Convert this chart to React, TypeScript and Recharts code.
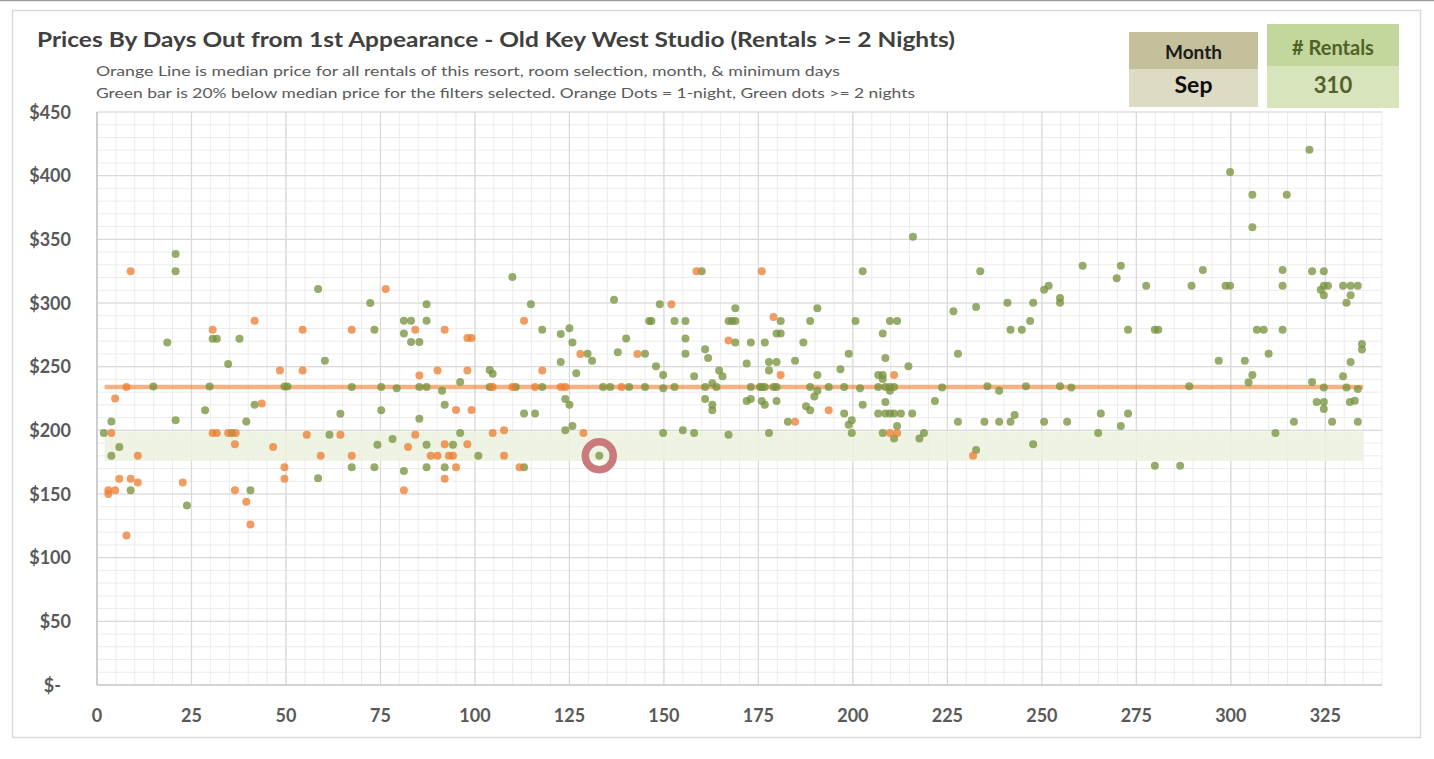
import React from 'react';
import { ScatterChart, Scatter, XAxis, YAxis, CartesianGrid, ReferenceArea } from 'recharts';

// ---------- data ----------
const xTicks = [0, 25, 50, 75, 100, 125, 150, 175, 200, 225, 250, 275, 300, 325];
const yTicks = [0, 50, 100, 150, 200, 250, 300, 350, 400, 450];
const xDomain = [0, 340];
const yDomain = [0, 450];

const medianPrice = 234;
const medianSpan = [2, 335];
const bandLow = 176;
const bandHigh = 199;
const highlightPoint = [132.9, 180];

// Orange dots = 1-night rentals [days out, price]
const oneNightPoints = [
  [3, 153], [3, 150], [3.8, 198], [4.8, 225], [4.8, 153], [5.9, 162], [7.8, 234], [7.8, 117.5],
  [8.9, 325], [8.9, 162], [10.8, 180], [10.8, 159], [22.7, 159], [30.6, 279], [30.6, 198], [31.7, 198],
  [34.7, 198], [36.5, 189], [36.5, 153], [36.7, 198], [39.5, 144], [40.6, 126], [41.7, 286], [43.6, 221],
  [46.6, 187], [48.4, 247], [49.6, 171], [49.6, 162], [54.4, 279], [54.4, 247], [55.5, 196.5], [59.2, 180],
  [64.4, 196.5], [67.4, 279], [67.4, 180], [76.4, 311], [81.2, 153], [82.3, 187], [84.2, 279], [84.2, 196.5],
  [85.3, 243], [88.3, 180], [90.1, 247], [90.1, 180], [92, 279], [92, 189], [92, 162], [93.1, 180],
  [94.2, 180], [95, 216], [95, 171], [98, 272.5], [98, 247], [98, 189], [99.1, 272.5], [99.1, 216],
  [104.7, 234], [104.7, 198], [107.7, 200], [107.7, 180], [109.9, 234], [111.8, 171], [113, 286], [115.9, 234],
  [117.8, 247], [122.7, 234], [123.9, 234], [127.9, 260], [128.7, 198], [138.8, 234], [143, 260], [152, 299],
  [158.6, 325], [167.1, 270.5], [175.9, 325], [179, 289], [180.9, 243.4], [184.7, 206.8], [193.6, 215.7],
  [209.8, 198], [210.9, 243.4], [211.7, 198], [231.8, 180],
];

// Green dots = 2+ night rentals [days out, price]
const multiNightPoints = [
  [1.8, 198], [3.8, 207], [3.8, 180], [5.9, 187], [8.9, 153], [14.9, 234.5], [18.6, 269], [20.8, 338.5],
  [20.8, 325], [20.8, 208], [23.8, 141], [28.6, 215.7], [29.8, 234.5], [30.6, 272], [31.7, 272], [34.7, 252],
  [35.7, 198], [37.7, 272], [39.5, 207], [40.6, 153], [41.7, 220], [49.6, 234.5], [50.4, 234.5],
  [58.5, 311], [58.5, 162.3], [60.3, 254.7], [61.5, 196.5], [64.4, 213], [67.4, 234], [67.4, 171], [72.3, 300],
  [73.4, 279], [73.4, 171], [74.2, 188.7], [75.2, 234], [75.2, 215.7], [78.2, 193.2], [79.3, 233], [81.2, 286],
  [81.2, 276], [81.2, 168], [83.1, 286], [83.1, 269.4], [85.3, 269.4], [85.3, 234], [85.3, 209], [87.2, 299],
  [87.2, 286], [87.2, 234], [87.2, 188.7], [87.2, 171], [91.3, 231], [92, 220], [92, 171], [94.2, 188.7],
  [96.1, 238], [96.1, 198], [100.9, 180], [103.9, 247.4], [103.9, 234], [104.7, 244.5], [109.9, 320.4],
  [110.8, 234], [113, 213.2], [113, 171], [114.8, 299], [115.9, 213.2], [117.8, 279], [117.8, 234], [122.7, 275.6],
  [122.7, 253.6], [123.9, 224.6], [123.9, 200], [125, 280.2], [125, 220], [125.8, 269], [125.8, 203.4], [126.8, 244.8],
  [129.8, 260.2], [131, 254.7], [132.9, 180], [133.9, 234], [135.8, 234], [136.8, 302.6], [137.8, 261.3], [140, 272.2],
  [140.8, 234], [145, 260.2], [145, 234], [146.1, 285.8], [146.7, 285.8], [147.9, 250.3], [148.9, 299], [149.8, 243.4],
  [149.8, 233], [149.8, 198], [152.8, 285.8], [152.8, 234], [155, 200], [155.7, 285.8], [155.7, 272.2], [155.7, 260.2],
  [158, 242.4], [158, 198], [160, 325], [160.9, 263.6], [160.9, 234], [160.9, 224.6], [161.7, 256.8], [162.8, 237],
  [162.8, 220], [162.8, 215.7], [163.9, 234], [164.6, 247], [165.5, 242.4],
  [167.1, 285.8], [167.1, 196.5], [168, 285.8], [168.9, 295.8], [168.9, 285.8], [168.9, 269], [171.9, 252.4], [171.9, 223],
  [173, 269], [173, 234], [173, 224.6], [175.4, 234], [175.9, 234], [175.9, 223], [176.7, 269], [176.7, 234],
  [176.7, 220], [177.8, 253.6], [177.8, 247], [177.8, 198], [179, 234], [179.8, 276], [179.8, 253.6], [179.8, 234],
  [179.8, 223], [180.9, 285.8], [180.9, 276], [182.8, 206.8], [184.7, 254.7], [186.9, 269], [187.6, 219], [188.7, 285.8],
  [188.7, 234], [188.7, 215.7], [189.8, 226.6], [190.6, 295.8], [190.6, 243.4], [190.6, 231], [193.6, 234], [196.7, 248],
  [197.7, 234], [197.7, 213.2], [198.9, 260.2], [198.9, 204.4], [199.7, 208], [199.7, 198], [200.7, 285.8], [201.9, 233],
  [202.6, 325], [202.6, 220], [206.7, 243.4], [206.7, 234], [206.7, 213.2], [207.9, 276], [207.9, 243.4], [207.9, 240.3],
  [207.9, 198], [208.6, 256.8], [208.6, 234], [208.6, 222.2], [208.6, 213.2], [209.8, 285.8], [209.8, 234], [209.8, 231],
  [209.8, 213.2], [210.9, 234], [210.9, 213.2], [210.9, 193.5], [211.7, 285.8], [211.7, 203.4], [212.7, 213.2], [214.7, 250.3],
  [215.7, 213.2], [215.9, 352], [217.6, 193.5], [218.8, 198], [221.7, 223],
  [223.6, 233.6], [226.6, 293.5], [227.8, 260.2], [227.8, 206.8], [232.6, 296.8], [232.6, 184.5], [233.7, 325], [234.8, 206.8],
  [235.6, 234.6], [238.7, 231], [238.7, 206.8], [240.9, 300.2], [241.7, 279], [241.7, 206.8], [242.8, 212], [244.7, 279],
  [245.8, 234.6], [246.9, 285.8], [247.7, 300.2], [247.7, 189], [250.6, 310.4], [250.6, 206.8], [251.8, 313.6], [254.8, 304],
  [254.8, 300.2], [254.8, 234.6], [256.7, 206.8], [257.8, 233.6], [260.8, 329.3], [264.9, 198], [265.6, 213.2], [269.8, 319.4],
  [270.9, 329.3], [270.9, 203.4], [272.8, 279], [272.8, 213.2],
  [277.6, 313.6], [279.9, 279], [280.8, 279], [279.9, 172.2], [286.6, 172.2], [289, 234.6], [289.6, 313.6], [292.6, 325.9],
  [296.8, 254.7], [298.6, 313.6], [299.8, 313.6], [299.8, 402.9], [303.7, 254.7], [304.7, 237.7], [305.7, 385], [305.7, 359.4],
  [305.7, 243.4], [306.9, 279], [308.7, 279],
  [310, 260.2], [311.8, 198], [313.7, 325.9], [313.7, 313.6], [313.7, 279], [314.8, 385], [316.7, 206.8], [320.8, 420.4],
  [321.5, 325], [321.5, 238], [322.7, 222.2], [323.8, 310.4], [324.6, 325], [324.6, 313.6], [324.6, 306], [324.6, 233.6],
  [324.6, 222.2], [324.6, 216.7], [325.7, 313.6], [326.8, 206.8], [329.7, 313.6], [329.7, 242.4], [330.6, 300.2], [330.6, 233.6],
  [331.5, 222.2], [331.7, 313.6], [331.7, 306], [331.7, 253.6], [332.8, 223.2], [333.6, 313.6], [333.6, 232.5], [333.6, 206.8],
  [334.7, 267.8], [334.7, 263.5],
];

// grid helper values (minor every 5 days / $10)
const xMinor: number[] = [];
for (let v = 0; v <= 340; v += 5) xMinor.push(v);
const yMinor: number[] = [];
for (let v = 0; v <= 450; v += 10) yMinor.push(v);

const toObjs = (arr: number[][]) => arr.map(([day, price]) => ({ day, price }));
const oneNightData = toObjs(oneNightPoints);
const multiNightData = toObjs(multiNightPoints);
const medianData = toObjs(medianSpan.map((d) => [d, medianPrice]));
const highlightData = toObjs([highlightPoint]);

const FONT = 'Lato, "Open Sans", sans-serif';
const AXIS_TEXT = '#595959';

const XTick = (props: any) => {
  const { x, y, payload } = props;
  return (
    <text x={x} y={y + 37} textAnchor="middle" fontFamily={FONT} fontWeight={700} fontSize={18} fill={AXIS_TEXT}>
      {payload.value}
    </text>
  );
};

const YTick = (props: any) => {
  const { x, y, payload } = props;
  if (payload.value === 0) {
    return (
      <text x={x - 36} y={y + 6.5} textAnchor="end" fontFamily={FONT} fontWeight={700} fontSize={18} fill={AXIS_TEXT}>
        $-
      </text>
    );
  }
  return (
    <text x={x - 26} y={y + 6.5} textAnchor="end" fontFamily={FONT} fontWeight={700} fontSize={18} fill={AXIS_TEXT}>
      {'$' + payload.value}
    </text>
  );
};

const makeDot = (fill: string) => (props: any) => (
  <circle cx={props.cx} cy={props.cy} r={4} fill={fill} fillOpacity={0.76} />
);
const NoDot = () => <g />;
const Ring = (props: any) => (
  <circle cx={props.cx} cy={props.cy} r={14} fill="none" stroke="#c97a7f" strokeWidth={7.5} />
);

export default function App() {
  return (
    <div style={{ position: 'absolute', left: 0, top: 0, width: 1434, height: 759, background: '#fff' }}>
      <ScatterChart width={1434} height={759} margin={{ top: 112, right: 52, bottom: 34, left: 0 }}>
        <CartesianGrid stroke="#ececec" strokeWidth={1} verticalValues={xMinor} horizontalValues={yMinor} />
        <CartesianGrid stroke="#d9d9d9" strokeWidth={1.2} verticalValues={xTicks} horizontalValues={yTicks} />
        <XAxis
          type="number"
          dataKey="day"
          domain={xDomain}
          ticks={xTicks}
          interval={0}
          height={40}
          tickSize={0}
          tickMargin={0}
          tickLine={false}
          axisLine={{ stroke: '#bfbfbf', strokeWidth: 1.2 }}
          tick={<XTick />}
          allowDataOverflow
        />
        <YAxis
          type="number"
          dataKey="price"
          domain={yDomain}
          ticks={yTicks}
          interval={0}
          width={97}
          tickSize={0}
          tickMargin={0}
          tickLine={false}
          axisLine={{ stroke: '#bfbfbf', strokeWidth: 1.2 }}
          tick={<YTick />}
          allowDataOverflow
        />
        <ReferenceArea
          x1={medianSpan[0]}
          x2={medianSpan[1]}
          y1={bandLow}
          y2={bandHigh}
          fill="#ebf1de"
          fillOpacity={0.85}
          stroke="none"
        />
        <Scatter
          data={medianData}
          line={{ stroke: '#ed7d31', strokeOpacity: 0.6, strokeWidth: 4.5 }}
          shape={NoDot}
          isAnimationActive={false}
        />
        <Scatter data={multiNightData} fill="#76923c" shape={makeDot('#76923c')} isAnimationActive={false} />
        <Scatter data={oneNightData} fill="#ed7d31" shape={makeDot('#ed7d31')} isAnimationActive={false} />
        <Scatter data={highlightData} shape={Ring} isAnimationActive={false} />
      </ScatterChart>

      <svg
        width={1434}
        height={759}
        style={{ position: 'absolute', left: 0, top: 0, pointerEvents: 'none' }}
      >
        <line x1={0} y1={0.5} x2={1434} y2={0.5} stroke="#9a9a9a" strokeWidth={1.5} />
        <rect x={12.5} y={10.5} width={1408} height={727} fill="none" stroke="#d9d9d9" strokeWidth={1.5} />
        <text x={37} y={47} fontFamily={FONT} fontWeight={700} fontSize={21} fill="#404040" textLength={918} lengthAdjust="spacingAndGlyphs">
          Prices By Days Out from 1st Appearance - Old Key West Studio (Rentals &gt;= 2 Nights)
        </text>
        <text x={96} y={76} fontFamily={FONT} fontSize={14} fill="#595959" textLength={744} lengthAdjust="spacingAndGlyphs">
          Orange Line is median price for all rentals of this resort, room selection, month, &amp; minimum days
        </text>
        <text x={96} y={98} fontFamily={FONT} fontSize={14} fill="#595959" textLength={819} lengthAdjust="spacingAndGlyphs">
          Green bar is 20% below median price for the filters selected. Orange Dots = 1-night, Green dots &gt;= 2 nights
        </text>

        <rect x={1129} y={32} width={129} height={37} fill="#c4c09b" />
        <rect x={1129} y={69} width={129} height={38} fill="#dedbc5" />
        <text x={1193.5} y={59} textAnchor="middle" fontFamily={FONT} fontWeight={700} fontSize={19} fill="#1a1a1a">
          Month
        </text>
        <text x={1193.5} y={93} textAnchor="middle" fontFamily={FONT} fontWeight={700} fontSize={23} fill="#0d0d0d">
          Sep
        </text>

        <rect x={1267} y={24} width={132} height={42} fill="#c3d69b" />
        <rect x={1267} y={66} width={132} height={42} fill="#d8e4bc" />
        <text x={1333} y={55} textAnchor="middle" fontFamily={FONT} fontWeight={700} fontSize={20} fill="#4f6228">
          # Rentals
        </text>
        <text x={1333} y={93} textAnchor="middle" fontFamily={FONT} fontWeight={700} fontSize={22} fill="#4f6228">
          310
        </text>
      </svg>
    </div>
  );
}
